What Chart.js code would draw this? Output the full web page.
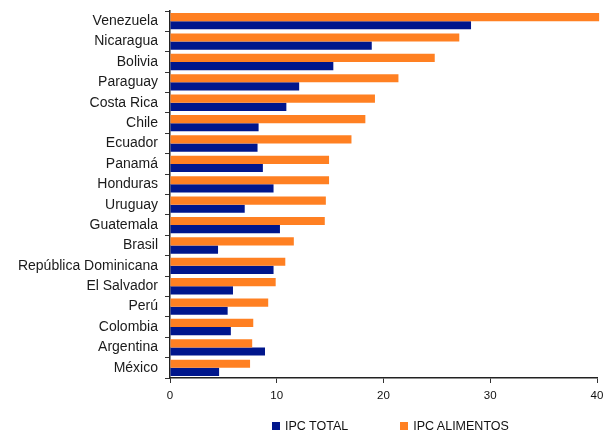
<!DOCTYPE html>
<html>
<head>
<meta charset="utf-8">
<script src="https://cdn.jsdelivr.net/npm/chart.js@4/dist/chart.umd.min.js"></script>
<style>
  body { margin: 0; background: #fff; }
  #wrap { position: relative; width: 613px; height: 431px; }
  #legend {
    position: absolute; top: 419px; left: 272px;
    font: 12.5px "Liberation Sans", Arial, sans-serif; color: #111;
    display: flex; align-items: center; white-space: nowrap;
  }
  #legend span.item { display: flex; align-items: center; }
  #legend span.item + span.item { margin-left: 52px; }
  #legend i { display: inline-block; width: 8px; height: 8px; margin-right: 5px; }
</style>
</head>
<body>
<div id="wrap">
  <canvas id="ipcChart" width="613" height="431"></canvas>
  <div id="legend"></div>
</div>
<script>
var countries = ['Venezuela', 'Nicaragua', 'Bolivia', 'Paraguay', 'Costa Rica', 'Chile', 'Ecuador',
    'Panamá', 'Honduras', 'Uruguay', 'Guatemala', 'Brasil', 'República Dominicana', 'El Salvador',
    'Perú', 'Colombia', 'Argentina', 'México'];
var ipcTotal = [28.2, 18.9, 15.3, 12.1, 10.9, 8.3, 8.2, 8.7, 9.7, 7.0, 10.3, 4.5, 9.7, 5.9, 5.4, 5.7, 8.9, 4.6];
var ipcAlimentos = [40.2, 27.1, 24.8, 21.4, 19.2, 18.3, 17.0, 14.9, 14.9, 14.6, 14.5, 11.6, 10.8, 9.9, 9.2, 7.8, 7.7, 7.5];
var xTicks = [0, 10, 20, 30, 40];

var BLUE = '#00168c';
var ORANGE = '#ff8022';
var font = '"Liberation Sans", Arial, sans-serif';

// orange goes first so it sits above the blue bar in each row
var chart = new Chart(document.getElementById('ipcChart'), {
    type: 'bar',
    data: {
        labels: countries,
        datasets: [{
            label: 'IPC ALIMENTOS',
            data: ipcAlimentos,
            backgroundColor: ORANGE,
            clip: false
        }, {
            label: 'IPC TOTAL',
            data: ipcTotal,
            backgroundColor: BLUE
        }]
    },
    options: {
        indexAxis: 'y',
        responsive: false,
        animation: false,
        categoryPercentage: 0.8,
        barPercentage: 1.0,
        layout: { padding: { top: 11, right: 16, bottom: 23, left: 0 } },
        plugins: {
            legend: { display: false },
            tooltip: { enabled: false }
        },
        scales: {
            x: {
                min: 0,
                max: 40,
                afterBuildTicks: function(scale) {
                    scale.ticks = xTicks.map(function(v) { return { value: v }; });
                },
                afterFit: function(scale) { scale.height = 30; },
                grid: { drawOnChartArea: false, tickLength: 5, color: '#333' },
                border: { color: '#222', width: 1.5 },
                ticks: { color: '#111', padding: 6, font: { family: font, size: 11.5 } }
            },
            y: {
                afterFit: function(scale) {
                    scale.width = 170;
                    // labels sit inside their rows, no extra room needed above or below
                    scale.paddingTop = 0;
                    scale.paddingBottom = 0;
                },
                grid: { drawOnChartArea: false, tickLength: 5, color: '#333', offset: true },
                border: { color: '#222', width: 1.5 },
                ticks: { color: '#1a1a1a', padding: 7, font: { family: font, size: 14 } }
            }
        }
    }
});

// legend below the axis, total first
var legend = document.getElementById('legend');
chart.data.datasets.slice().reverse().forEach(function(ds) {
    var item = document.createElement('span');
    item.className = 'item';
    item.innerHTML = '<i style="background:' + ds.backgroundColor + '"></i>' + ds.label;
    legend.appendChild(item);
});
</script>
</body>
</html>
